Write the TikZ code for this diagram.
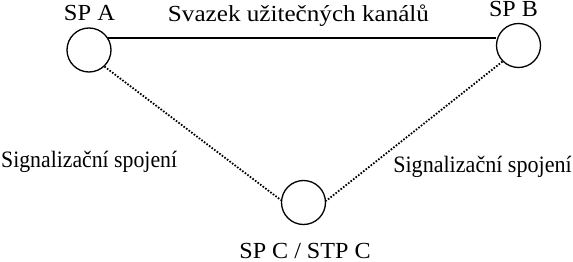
\documentclass[tikz,border=0pt]{standalone}
\usepackage{fontspec}
\setmainfont{Liberation Serif}
\newcommand{\stretchto}[1]{\addfontfeature{FakeStretch=#1}}
\begin{document}
\begin{tikzpicture}[x=1pt,y=-1pt,
  station/.style={circle,draw,line width=1.3pt,minimum size=44pt,inner sep=0pt},
  trunk/.style={line width=1.9pt},
  signalling/.style={line width=1.8pt,dash pattern=on 1.6pt off 1.6pt},
  lbl/.style={inner sep=0pt,font=\fontsize{23}{26}\selectfont},
  sig/.style={inner sep=0pt,font=\fontsize{23.5}{26}\selectfont}]
  \useasboundingbox (0,0) rectangle (573,262);
  % exchanges
  \node[station] (A) at (89,50) {};
  \node[station] (B) at (518.5,45.5) {};
  \node[station] (C) at (303.5,202.5) {};
  % labels
  \node[lbl,anchor=base] (la) at (89.5,21) {\stretchto{1.065}SP A};
  \node[lbl,anchor=base] (lb) at (513.5,16.5) {\stretchto{1.045}SP B};
  \node[lbl,anchor=base] (lc) at (305,258.5) {\stretchto{1.048}SP C / STP C};
  \node[lbl,anchor=base] (lt) at (298.5,22) {\stretchto{1.093}Svazek užitečných kanálů};
  \node[sig,anchor=base west] (ll) at (1,167) {\stretchto{0.926}Signalizační spojení};
  \node[sig,anchor=base east] (lr) at (572,172) {\stretchto{0.94}Signalizační spojení};
  % voice trunk and signalling links
  \draw[trunk] (A.32) -- (A.32 -| B.west);
  \draw[signalling] (A.313) -- (C.174);
  \draw[signalling] (B.225) -- (C.4);
\end{tikzpicture}
\end{document}
